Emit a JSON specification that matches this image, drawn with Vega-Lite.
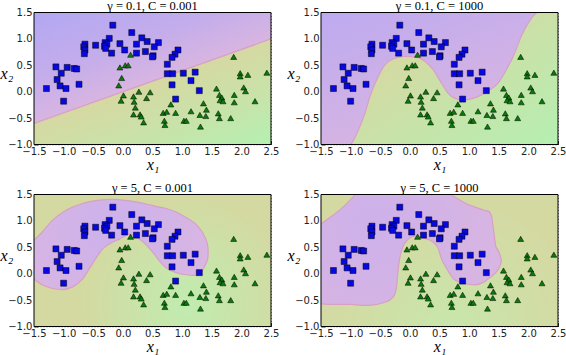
{
  "$schema": "https://vega.github.io/schema/vega-lite/v6.json",
  "padding": {"left": 0, "top": -0.5, "right": 0, "bottom": 0},
  "background": "white",
  "bounds": "flush",
  "columns": 2,
  "spacing": {"row": 50, "column": 50},
  "config": {
    "font": "DejaVu Sans",
    "view": {"stroke": null},
    "axis": {
      "grid": true, "gridDash": [1, 2], "gridColor": "#333", "gridWidth": 0.7, "gridOpacity": 0.8,
      "domain": false, "ticks": true, "tickSize": -4, "tickColor": "black", "tickWidth": 0.8,
      "labelFont": "DejaVu Sans", "labelFontSize": 10, "labelColor": "#222", "labelPadding": 6,
      "labelOverlap": false, "labelFlush": false,
      "titleFont": "Liberation Serif", "titleFontStyle": "italic", "titleFontWeight": "normal",
      "titleFontSize": 16, "titleColor": "black", "zindex": 1
    },
    "axisX": {"titlePadding": 0},
    "title": {"font": "Liberation Serif", "fontSize": 12.5, "fontWeight": "normal", "offset": -5, "baseline": "bottom", "color": "black"}
  },
  "datasets": {
    "pts": [
      {"x": -0.17, "y": 1.26, "c": "b"}, {"x": 0.15, "y": 1.12, "c": "b"}, {"x": -0.23, "y": 1.01, "c": "b"},
      {"x": 0.32, "y": 1.02, "c": "b"}, {"x": 0.41, "y": 0.95, "c": "b"}, {"x": 0.60, "y": 0.93, "c": "b"},
      {"x": 0.53, "y": 0.85, "c": "b"}, {"x": 0.23, "y": 0.90, "c": "b"}, {"x": -0.05, "y": 0.91, "c": "b"},
      {"x": -0.30, "y": 0.93, "c": "b"}, {"x": -0.27, "y": 0.90, "c": "b"}, {"x": -0.31, "y": 0.86, "c": "b"},
      {"x": -0.29, "y": 0.82, "c": "b"}, {"x": -0.46, "y": 0.88, "c": "b"}, {"x": -0.64, "y": 0.90, "c": "b"},
      {"x": -0.66, "y": 0.85, "c": "b"}, {"x": -0.64, "y": 0.79, "c": "b"}, {"x": -0.65, "y": 0.72, "c": "b"},
      {"x": -0.19, "y": 0.73, "c": "b"}, {"x": 0.03, "y": 0.79, "c": "b"}, {"x": 0.23, "y": 0.73, "c": "b"},
      {"x": 0.38, "y": 0.76, "c": "b"}, {"x": 0.51, "y": 0.68, "c": "b"}, {"x": 0.50, "y": 0.66, "c": "b"},
      {"x": 0.93, "y": 0.79, "c": "b"}, {"x": 0.88, "y": 0.71, "c": "b"}, {"x": 0.83, "y": 0.65, "c": "b"},
      {"x": 0.75, "y": 0.52, "c": "b"}, {"x": 0.75, "y": 0.34, "c": "b"}, {"x": 0.84, "y": 0.34, "c": "b"},
      {"x": 1.02, "y": 0.35, "c": "b"}, {"x": 1.22, "y": 0.37, "c": "b"}, {"x": 1.15, "y": 0.21, "c": "b"},
      {"x": 0.83, "y": 0.13, "c": "b"}, {"x": 1.29, "y": 0.02, "c": "b"}, {"x": 0.89, "y": -0.14, "c": "b"},
      {"x": -1.13, "y": 0.47, "c": "b"}, {"x": -0.94, "y": 0.46, "c": "b"}, {"x": -0.82, "y": 0.44, "c": "b"},
      {"x": -0.78, "y": 0.43, "c": "b"}, {"x": -1.04, "y": 0.35, "c": "b"}, {"x": -1.11, "y": 0.23, "c": "b"},
      {"x": -1.06, "y": 0.11, "c": "b"}, {"x": -0.96, "y": 0.06, "c": "b"}, {"x": -1.29, "y": 0.06, "c": "b"},
      {"x": -0.74, "y": 0.14, "c": "b"}, {"x": -1.00, "y": -0.18, "c": "b"},
      {"x": 1.87, "y": 0.66, "c": "g"}, {"x": 0.13, "y": 0.70, "c": "g"}, {"x": 0.04, "y": 0.50, "c": "g"},
      {"x": 0.09, "y": 0.50, "c": "g"}, {"x": -0.05, "y": 0.46, "c": "g"}, {"x": -0.02, "y": 0.26, "c": "g"},
      {"x": -0.07, "y": 0.12, "c": "g"}, {"x": 0.01, "y": -0.07, "c": "g"}, {"x": -0.03, "y": -0.17, "c": "g"},
      {"x": 0.27, "y": 0.00, "c": "g"}, {"x": 0.18, "y": -0.09, "c": "g"}, {"x": 0.19, "y": -0.19, "c": "g"},
      {"x": 0.21, "y": -0.30, "c": "g"}, {"x": 0.40, "y": -0.12, "c": "g"}, {"x": 0.46, "y": -0.01, "c": "g"},
      {"x": 0.18, "y": -0.43, "c": "g"}, {"x": 0.29, "y": -0.43, "c": "g"}, {"x": 0.31, "y": -0.47, "c": "g"},
      {"x": 0.35, "y": -0.58, "c": "g"}, {"x": 0.68, "y": -0.40, "c": "g"}, {"x": 0.74, "y": -0.38, "c": "g"},
      {"x": 0.70, "y": -0.55, "c": "g"}, {"x": 0.71, "y": -0.63, "c": "g"}, {"x": 0.81, "y": -0.24, "c": "g"},
      {"x": 0.89, "y": -0.40, "c": "g"}, {"x": 1.03, "y": -0.55, "c": "g"}, {"x": 1.07, "y": -0.55, "c": "g"},
      {"x": 1.15, "y": -0.37, "c": "g"}, {"x": 1.30, "y": -0.44, "c": "g"}, {"x": 1.31, "y": -0.66, "c": "g"},
      {"x": 1.36, "y": -0.22, "c": "g"}, {"x": 1.41, "y": -0.34, "c": "g"}, {"x": 1.40, "y": -0.46, "c": "g"},
      {"x": 1.58, "y": 0.06, "c": "g"}, {"x": 1.61, "y": -0.41, "c": "g"}, {"x": 1.63, "y": -0.50, "c": "g"},
      {"x": 1.63, "y": -0.06, "c": "g"}, {"x": 1.67, "y": -0.11, "c": "g"}, {"x": 1.64, "y": -0.16, "c": "g"},
      {"x": 1.69, "y": -0.18, "c": "g"}, {"x": 1.82, "y": -0.50, "c": "g"}, {"x": 1.88, "y": -0.06, "c": "g"},
      {"x": 1.88, "y": -0.20, "c": "g"}, {"x": 1.98, "y": 0.35, "c": "g"}, {"x": 1.98, "y": 0.29, "c": "g"},
      {"x": 2.11, "y": 0.32, "c": "g"}, {"x": 2.04, "y": 0.08, "c": "g"}, {"x": 2.07, "y": 0.01, "c": "g"},
      {"x": 2.23, "y": -0.18, "c": "g"}, {"x": 2.43, "y": 0.36, "c": "g"}
    ],
    "b1": [{"x": -1.5, "b": -0.6}, {"x": 2.5, "b": 1.0}],
    "b2": [
      {"x": -1.5, "b": -1}, {"x": -1.011, "b": -1}, {"x": -0.871, "b": -0.73}, {"x": -0.758, "b": -0.41},
      {"x": -0.674, "b": -0.09}, {"x": -0.534, "b": 0.29}, {"x": -0.421, "b": 0.51}, {"x": -0.281, "b": 0.62},
      {"x": -0.084, "b": 0.67}, {"x": 0.084, "b": 0.66}, {"x": 0.253, "b": 0.575}, {"x": 0.393, "b": 0.416},
      {"x": 0.534, "b": 0.16}, {"x": 0.646, "b": -0.03}, {"x": 0.758, "b": -0.126}, {"x": 0.899, "b": -0.158},
      {"x": 1.067, "b": -0.126}, {"x": 1.208, "b": -0.063}, {"x": 1.348, "b": 0.033}, {"x": 1.489, "b": 0.161},
      {"x": 1.629, "b": 0.416}, {"x": 1.77, "b": 0.735}, {"x": 1.882, "b": 1.054}, {"x": 2.022, "b": 1.341},
      {"x": 2.163, "b": 1.5}, {"x": 2.5, "b": 1.5}
    ],
    "b3": [
      {"x": -1.5, "lo": -0.10, "hi": 0.63}, {"x": -1.36, "lo": -0.21, "hi": 0.79}, {"x": -1.19, "lo": -0.28, "hi": 1.01},
      {"x": -1.02, "lo": -0.30, "hi": 1.16}, {"x": -0.85, "lo": -0.25, "hi": 1.26}, {"x": -0.68, "lo": -0.10, "hi": 1.33},
      {"x": -0.57, "lo": 0.09, "hi": 1.36}, {"x": -0.45, "lo": 0.30, "hi": 1.385}, {"x": -0.34, "lo": 0.47, "hi": 1.40},
      {"x": -0.20, "lo": 0.58, "hi": 1.41}, {"x": -0.05, "lo": 0.66, "hi": 1.40}, {"x": 0.11, "lo": 0.75, "hi": 1.38},
      {"x": 0.25, "lo": 0.68, "hi": 1.355}, {"x": 0.39, "lo": 0.55, "hi": 1.32}, {"x": 0.51, "lo": 0.40, "hi": 1.29},
      {"x": 0.62, "lo": 0.24, "hi": 1.26}, {"x": 0.73, "lo": 0.11, "hi": 1.235}, {"x": 0.90, "lo": 0.02, "hi": 1.17},
      {"x": 1.07, "lo": -0.02, "hi": 1.06}, {"x": 1.17, "lo": -0.03, "hi": 0.99}, {"x": 1.24, "lo": -0.03, "hi": 0.93},
      {"x": 1.30, "lo": -0.01, "hi": 0.85}, {"x": 1.35, "lo": 0.08, "hi": 0.77}, {"x": 1.41, "lo": 0.21, "hi": 0.62},
      {"x": 1.435, "lo": 0.30, "hi": 0.50}, {"x": 1.44, "lo": 0.40, "hi": 0.40}
    ],
    "b4": [
      {"x": -1.5, "lo": -0.57, "hi": 0.945}, {"x": -1.28, "lo": -0.58, "hi": 1.12}, {"x": -1.11, "lo": -0.58, "hi": 1.28},
      {"x": -0.97, "lo": -0.58, "hi": 1.44}, {"x": -0.915, "lo": -0.59, "hi": 1.5}, {"x": -0.70, "lo": -0.60, "hi": 1.5},
      {"x": -0.42, "lo": -0.54, "hi": 1.5}, {"x": -0.30, "lo": -0.46, "hi": 1.5}, {"x": -0.25, "lo": -0.38, "hi": 1.5},
      {"x": -0.22, "lo": -0.20, "hi": 1.5}, {"x": -0.20, "lo": 0.05, "hi": 1.5}, {"x": -0.17, "lo": 0.30, "hi": 1.5},
      {"x": -0.12, "lo": 0.50, "hi": 1.5}, {"x": -0.03, "lo": 0.65, "hi": 1.5}, {"x": 0.08, "lo": 0.71, "hi": 1.5},
      {"x": 0.25, "lo": 0.67, "hi": 1.5}, {"x": 0.39, "lo": 0.60, "hi": 1.5}, {"x": 0.48, "lo": 0.47, "hi": 1.5},
      {"x": 0.53, "lo": 0.29, "hi": 1.5}, {"x": 0.62, "lo": 0.10, "hi": 1.5}, {"x": 0.69, "lo": -0.03, "hi": 1.5},
      {"x": 0.73, "lo": -0.09, "hi": 1.47}, {"x": 0.93, "lo": -0.19, "hi": 1.34}, {"x": 1.10, "lo": -0.21, "hi": 1.26},
      {"x": 1.26, "lo": -0.15, "hi": 1.20}, {"x": 1.33, "lo": -0.09, "hi": 1.18}, {"x": 1.38, "lo": -0.05, "hi": 1.08},
      {"x": 1.41, "lo": -0.02, "hi": 0.85}, {"x": 1.45, "lo": 0.02, "hi": 0.52}, {"x": 1.50, "lo": 0.10, "hi": 0.42},
      {"x": 1.53, "lo": 0.18, "hi": 0.32}, {"x": 1.545, "lo": 0.25, "hi": 0.25}
    ]
  },
  "concat": [
    {
      "width": 237, "height": 132,
      "title": "γ = 0.1, C = 0.001",
      "layer": [
        {
          "data": {"name": "b1"},
          "mark": {"type": "area", "clip": true, "fill": {"gradient": "linear", "x1": 0, "y1": 0, "x2": 0.48, "y2": 0.63, "stops": [{"offset": 0, "color": "#b2a7f3"}, {"offset": 0.6, "color": "#c4adeb"}, {"offset": 1, "color": "#d8b5e1"}]}},
          "encoding": {
            "x": {"field": "x", "type": "quantitative", "scale": {"domain": [-1.5, 2.5], "nice": false, "zero": false},
                  "axis": {"title": "x₁", "values": [-1.5, -1, -0.5, 0, 0.5, 1, 1.5, 2, 2.5], "format": ".1f"}},
            "y": {"field": "b", "type": "quantitative", "scale": {"domain": [-1, 1.5], "nice": false, "zero": false},
                  "axis": {"title": "x₂", "values": [-1, -0.5, 0, 0.5, 1, 1.5], "format": ".1f", "titleAngle": 0, "titleAlign": "right", "titleBaseline": "alphabetic", "titlePadding": -5}},
            "y2": {"datum": 1.5}
          }
        },
        {
          "data": {"name": "b1"},
          "mark": {"type": "area", "clip": true, "fill": {"gradient": "linear", "x1": 0.51, "y1": 0.39, "x2": 1, "y2": 1, "stops": [{"offset": 0, "color": "#d6d8a2"}, {"offset": 0.5, "color": "#c8e3a9"}, {"offset": 1, "color": "#b5f0b2"}]}},
          "encoding": {
            "x": {"field": "x", "type": "quantitative", "scale": {"domain": [-1.5, 2.5], "nice": false, "zero": false},
                  "axis": {"title": "x₁", "values": [-1.5, -1, -0.5, 0, 0.5, 1, 1.5, 2, 2.5], "format": ".1f"}},
            "y": {"field": "b", "type": "quantitative", "scale": {"domain": [-1, 1.5], "nice": false, "zero": false},
                  "axis": {"title": "x₂", "values": [-1, -0.5, 0, 0.5, 1, 1.5], "format": ".1f", "titleAngle": 0, "titleAlign": "right", "titleBaseline": "alphabetic", "titlePadding": -5}},
            "y2": {"datum": -1}
          }
        },
        {
          "data": {"name": "b1"},
          "mark": {"type": "line", "clip": true, "stroke": "#d7a0c4", "strokeWidth": 1.2},
          "encoding": {
            "x": {"field": "x", "type": "quantitative", "scale": {"domain": [-1.5, 2.5], "nice": false, "zero": false},
                  "axis": {"title": "x₁", "values": [-1.5, -1, -0.5, 0, 0.5, 1, 1.5, 2, 2.5], "format": ".1f"}},
            "y": {"field": "b", "type": "quantitative", "scale": {"domain": [-1, 1.5], "nice": false, "zero": false},
                  "axis": {"title": "x₂", "values": [-1, -0.5, 0, 0.5, 1, 1.5], "format": ".1f", "titleAngle": 0, "titleAlign": "right", "titleBaseline": "alphabetic", "titlePadding": -5}}
          }
        },
        {
          "data": {"name": "pts"},
          "mark": {"type": "point", "filled": true, "opacity": 1, "stroke": "black", "strokeWidth": 0.5, "size": 36},
          "encoding": {
            "x": {"field": "x", "type": "quantitative", "scale": {"domain": [-1.5, 2.5], "nice": false, "zero": false},
                  "axis": {"title": "x₁", "values": [-1.5, -1, -0.5, 0, 0.5, 1, 1.5, 2, 2.5], "format": ".1f"}},
            "y": {"field": "y", "type": "quantitative", "scale": {"domain": [-1, 1.5], "nice": false, "zero": false},
                  "axis": {"title": "x₂", "values": [-1, -0.5, 0, 0.5, 1, 1.5], "format": ".1f", "titleAngle": 0, "titleAlign": "right", "titleBaseline": "alphabetic", "titlePadding": -5}},
            "shape": {"field": "c", "type": "nominal", "scale": {"domain": ["b", "g"], "range": ["square", "triangle-up"]}, "legend": null},
            "color": {"field": "c", "type": "nominal", "scale": {"domain": ["b", "g"], "range": ["#0808e0", "#0a7a0a"]}, "legend": null}
          }
        },
        {
          "data": {"values": [{}]},
          "mark": {"type": "rect", "filled": false, "stroke": "black", "strokeWidth": 1},
          "encoding": {
            "x": {"datum": -1.5, "type": "quantitative", "scale": {"domain": [-1.5, 2.5], "nice": false, "zero": false},
                  "axis": {"title": "x₁", "values": [-1.5, -1, -0.5, 0, 0.5, 1, 1.5, 2, 2.5], "format": ".1f"}},
            "x2": {"datum": 2.5},
            "y": {"datum": -1, "type": "quantitative", "scale": {"domain": [-1, 1.5], "nice": false, "zero": false},
                  "axis": {"title": "x₂", "values": [-1, -0.5, 0, 0.5, 1, 1.5], "format": ".1f", "titleAngle": 0, "titleAlign": "right", "titleBaseline": "alphabetic", "titlePadding": -5}},
            "y2": {"datum": 1.5}
          }
        }
      ]
    },
    {
      "width": 237, "height": 132,
      "title": "γ = 0.1, C = 1000",
      "layer": [
        {
          "data": {"name": "b2"},
          "mark": {"type": "area", "clip": true, "interpolate": "monotone", "fill": {"gradient": "linear", "x1": 0.25, "y1": 0.35, "x2": 1, "y2": 1, "stops": [{"offset": 0, "color": "#d5d9a2"}, {"offset": 1, "color": "#b6efb2"}]}},
          "encoding": {
            "x": {"field": "x", "type": "quantitative", "scale": {"domain": [-1.5, 2.5], "nice": false, "zero": false},
                  "axis": {"title": "x₁", "values": [-1.5, -1, -0.5, 0, 0.5, 1, 1.5, 2, 2.5], "format": ".1f"}},
            "y": {"field": "b", "type": "quantitative", "scale": {"domain": [-1, 1.5], "nice": false, "zero": false},
                  "axis": {"title": "x₂", "values": [-1, -0.5, 0, 0.5, 1, 1.5], "format": ".1f", "titleAngle": 0, "titleAlign": "right", "titleBaseline": "alphabetic", "titlePadding": -5}},
            "y2": {"datum": -1}
          }
        },
        {
          "data": {"name": "b2"},
          "mark": {"type": "area", "clip": true, "interpolate": "monotone", "fill": {"gradient": "linear", "x1": 0, "y1": 0, "x2": 0.5, "y2": 0.8, "stops": [{"offset": 0, "color": "#bdaaf0"}, {"offset": 1, "color": "#d6b4e2"}]}},
          "encoding": {
            "x": {"field": "x", "type": "quantitative", "scale": {"domain": [-1.5, 2.5], "nice": false, "zero": false},
                  "axis": {"title": "x₁", "values": [-1.5, -1, -0.5, 0, 0.5, 1, 1.5, 2, 2.5], "format": ".1f"}},
            "y": {"field": "b", "type": "quantitative", "scale": {"domain": [-1, 1.5], "nice": false, "zero": false},
                  "axis": {"title": "x₂", "values": [-1, -0.5, 0, 0.5, 1, 1.5], "format": ".1f", "titleAngle": 0, "titleAlign": "right", "titleBaseline": "alphabetic", "titlePadding": -5}},
            "y2": {"datum": 1.5}
          }
        },
        {
          "data": {"name": "b2"},
          "mark": {"type": "line", "clip": true, "interpolate": "monotone", "stroke": "#d7a0c4", "strokeWidth": 1.2},
          "encoding": {
            "x": {"field": "x", "type": "quantitative", "scale": {"domain": [-1.5, 2.5], "nice": false, "zero": false},
                  "axis": {"title": "x₁", "values": [-1.5, -1, -0.5, 0, 0.5, 1, 1.5, 2, 2.5], "format": ".1f"}},
            "y": {"field": "b", "type": "quantitative", "scale": {"domain": [-1, 1.5], "nice": false, "zero": false},
                  "axis": {"title": "x₂", "values": [-1, -0.5, 0, 0.5, 1, 1.5], "format": ".1f", "titleAngle": 0, "titleAlign": "right", "titleBaseline": "alphabetic", "titlePadding": -5}}
          }
        },
        {
          "data": {"name": "pts"},
          "mark": {"type": "point", "filled": true, "opacity": 1, "stroke": "black", "strokeWidth": 0.5, "size": 36},
          "encoding": {
            "x": {"field": "x", "type": "quantitative", "scale": {"domain": [-1.5, 2.5], "nice": false, "zero": false},
                  "axis": {"title": "x₁", "values": [-1.5, -1, -0.5, 0, 0.5, 1, 1.5, 2, 2.5], "format": ".1f"}},
            "y": {"field": "y", "type": "quantitative", "scale": {"domain": [-1, 1.5], "nice": false, "zero": false},
                  "axis": {"title": "x₂", "values": [-1, -0.5, 0, 0.5, 1, 1.5], "format": ".1f", "titleAngle": 0, "titleAlign": "right", "titleBaseline": "alphabetic", "titlePadding": -5}},
            "shape": {"field": "c", "type": "nominal", "scale": {"domain": ["b", "g"], "range": ["square", "triangle-up"]}, "legend": null},
            "color": {"field": "c", "type": "nominal", "scale": {"domain": ["b", "g"], "range": ["#0808e0", "#0a7a0a"]}, "legend": null}
          }
        },
        {
          "data": {"values": [{}]},
          "mark": {"type": "rect", "filled": false, "stroke": "black", "strokeWidth": 1},
          "encoding": {
            "x": {"datum": -1.5, "type": "quantitative", "scale": {"domain": [-1.5, 2.5], "nice": false, "zero": false},
                  "axis": {"title": "x₁", "values": [-1.5, -1, -0.5, 0, 0.5, 1, 1.5, 2, 2.5], "format": ".1f"}},
            "x2": {"datum": 2.5},
            "y": {"datum": -1, "type": "quantitative", "scale": {"domain": [-1, 1.5], "nice": false, "zero": false},
                  "axis": {"title": "x₂", "values": [-1, -0.5, 0, 0.5, 1, 1.5], "format": ".1f", "titleAngle": 0, "titleAlign": "right", "titleBaseline": "alphabetic", "titlePadding": -5}},
            "y2": {"datum": 1.5}
          }
        }
      ]
    },
    {
      "width": 237, "height": 132,
      "title": "γ = 5, C = 0.001",
      "layer": [
        {
          "data": {"name": "b1"},
          "mark": {"type": "area", "clip": true, "fill": {"gradient": "radial", "x1": 0.65, "y1": 0.68, "r1": 0, "x2": 0.65, "y2": 0.68, "r2": 0.45, "stops": [{"offset": 0, "color": "#c0ecb0"}, {"offset": 1, "color": "#d3d9a1"}]}},
          "encoding": {
            "x": {"field": "x", "type": "quantitative", "scale": {"domain": [-1.5, 2.5], "nice": false, "zero": false},
                  "axis": {"title": "x₁", "values": [-1.5, -1, -0.5, 0, 0.5, 1, 1.5, 2, 2.5], "format": ".1f"}},
            "y": {"datum": -1, "type": "quantitative", "scale": {"domain": [-1, 1.5], "nice": false, "zero": false},
                  "axis": {"title": "x₂", "values": [-1, -0.5, 0, 0.5, 1, 1.5], "format": ".1f", "titleAngle": 0, "titleAlign": "right", "titleBaseline": "alphabetic", "titlePadding": -5}},
            "y2": {"datum": 1.5}
          }
        },
        {
          "data": {"name": "b3"},
          "mark": {"type": "area", "clip": true, "interpolate": "monotone", "fill": {"gradient": "radial", "x1": 0.45, "y1": 0.4, "r1": 0, "x2": 0.45, "y2": 0.4, "r2": 0.6, "stops": [{"offset": 0, "color": "#ccb1ec"}, {"offset": 1, "color": "#d9b6e2"}]}},
          "encoding": {
            "x": {"field": "x", "type": "quantitative", "scale": {"domain": [-1.5, 2.5], "nice": false, "zero": false},
                  "axis": {"title": "x₁", "values": [-1.5, -1, -0.5, 0, 0.5, 1, 1.5, 2, 2.5], "format": ".1f"}},
            "y": {"field": "lo", "type": "quantitative", "scale": {"domain": [-1, 1.5], "nice": false, "zero": false},
                  "axis": {"title": "x₂", "values": [-1, -0.5, 0, 0.5, 1, 1.5], "format": ".1f", "titleAngle": 0, "titleAlign": "right", "titleBaseline": "alphabetic", "titlePadding": -5}},
            "y2": {"field": "hi"}
          }
        },
        {
          "data": {"name": "b3"},
          "mark": {"type": "line", "clip": true, "interpolate": "monotone", "stroke": "#d7a0c4", "strokeWidth": 1.2},
          "encoding": {
            "x": {"field": "x", "type": "quantitative", "scale": {"domain": [-1.5, 2.5], "nice": false, "zero": false},
                  "axis": {"title": "x₁", "values": [-1.5, -1, -0.5, 0, 0.5, 1, 1.5, 2, 2.5], "format": ".1f"}},
            "y": {"field": "lo", "type": "quantitative", "scale": {"domain": [-1, 1.5], "nice": false, "zero": false},
                  "axis": {"title": "x₂", "values": [-1, -0.5, 0, 0.5, 1, 1.5], "format": ".1f", "titleAngle": 0, "titleAlign": "right", "titleBaseline": "alphabetic", "titlePadding": -5}}
          }
        },
        {
          "data": {"name": "b3"},
          "mark": {"type": "line", "clip": true, "interpolate": "monotone", "stroke": "#d7a0c4", "strokeWidth": 1.2},
          "encoding": {
            "x": {"field": "x", "type": "quantitative", "scale": {"domain": [-1.5, 2.5], "nice": false, "zero": false},
                  "axis": {"title": "x₁", "values": [-1.5, -1, -0.5, 0, 0.5, 1, 1.5, 2, 2.5], "format": ".1f"}},
            "y": {"field": "hi", "type": "quantitative", "scale": {"domain": [-1, 1.5], "nice": false, "zero": false},
                  "axis": {"title": "x₂", "values": [-1, -0.5, 0, 0.5, 1, 1.5], "format": ".1f", "titleAngle": 0, "titleAlign": "right", "titleBaseline": "alphabetic", "titlePadding": -5}}
          }
        },
        {
          "data": {"name": "pts"},
          "mark": {"type": "point", "filled": true, "opacity": 1, "stroke": "black", "strokeWidth": 0.5, "size": 36},
          "encoding": {
            "x": {"field": "x", "type": "quantitative", "scale": {"domain": [-1.5, 2.5], "nice": false, "zero": false},
                  "axis": {"title": "x₁", "values": [-1.5, -1, -0.5, 0, 0.5, 1, 1.5, 2, 2.5], "format": ".1f"}},
            "y": {"field": "y", "type": "quantitative", "scale": {"domain": [-1, 1.5], "nice": false, "zero": false},
                  "axis": {"title": "x₂", "values": [-1, -0.5, 0, 0.5, 1, 1.5], "format": ".1f", "titleAngle": 0, "titleAlign": "right", "titleBaseline": "alphabetic", "titlePadding": -5}},
            "shape": {"field": "c", "type": "nominal", "scale": {"domain": ["b", "g"], "range": ["square", "triangle-up"]}, "legend": null},
            "color": {"field": "c", "type": "nominal", "scale": {"domain": ["b", "g"], "range": ["#0808e0", "#0a7a0a"]}, "legend": null}
          }
        },
        {
          "data": {"values": [{}]},
          "mark": {"type": "rect", "filled": false, "stroke": "black", "strokeWidth": 1},
          "encoding": {
            "x": {"datum": -1.5, "type": "quantitative", "scale": {"domain": [-1.5, 2.5], "nice": false, "zero": false},
                  "axis": {"title": "x₁", "values": [-1.5, -1, -0.5, 0, 0.5, 1, 1.5, 2, 2.5], "format": ".1f"}},
            "x2": {"datum": 2.5},
            "y": {"datum": -1, "type": "quantitative", "scale": {"domain": [-1, 1.5], "nice": false, "zero": false},
                  "axis": {"title": "x₂", "values": [-1, -0.5, 0, 0.5, 1, 1.5], "format": ".1f", "titleAngle": 0, "titleAlign": "right", "titleBaseline": "alphabetic", "titlePadding": -5}},
            "y2": {"datum": 1.5}
          }
        }
      ]
    },
    {
      "width": 237, "height": 132,
      "title": "γ = 5, C = 1000",
      "layer": [
        {
          "data": {"name": "b1"},
          "mark": {"type": "area", "clip": true, "fill": {"gradient": "radial", "x1": 0.55, "y1": 0.8, "r1": 0, "x2": 0.55, "y2": 0.8, "r2": 0.55, "stops": [{"offset": 0, "color": "#c8e6ab"}, {"offset": 1, "color": "#d4d9a2"}]}},
          "encoding": {
            "x": {"field": "x", "type": "quantitative", "scale": {"domain": [-1.5, 2.5], "nice": false, "zero": false},
                  "axis": {"title": "x₁", "values": [-1.5, -1, -0.5, 0, 0.5, 1, 1.5, 2, 2.5], "format": ".1f"}},
            "y": {"datum": -1, "type": "quantitative", "scale": {"domain": [-1, 1.5], "nice": false, "zero": false},
                  "axis": {"title": "x₂", "values": [-1, -0.5, 0, 0.5, 1, 1.5], "format": ".1f", "titleAngle": 0, "titleAlign": "right", "titleBaseline": "alphabetic", "titlePadding": -5}},
            "y2": {"datum": 1.5}
          }
        },
        {
          "data": {"name": "b4"},
          "mark": {"type": "area", "clip": true, "interpolate": "monotone", "fill": {"gradient": "radial", "x1": 0.3, "y1": 0.35, "r1": 0, "x2": 0.3, "y2": 0.35, "r2": 0.7, "stops": [{"offset": 0, "color": "#cdb1ea"}, {"offset": 1, "color": "#d8b5e2"}]}},
          "encoding": {
            "x": {"field": "x", "type": "quantitative", "scale": {"domain": [-1.5, 2.5], "nice": false, "zero": false},
                  "axis": {"title": "x₁", "values": [-1.5, -1, -0.5, 0, 0.5, 1, 1.5, 2, 2.5], "format": ".1f"}},
            "y": {"field": "lo", "type": "quantitative", "scale": {"domain": [-1, 1.5], "nice": false, "zero": false},
                  "axis": {"title": "x₂", "values": [-1, -0.5, 0, 0.5, 1, 1.5], "format": ".1f", "titleAngle": 0, "titleAlign": "right", "titleBaseline": "alphabetic", "titlePadding": -5}},
            "y2": {"field": "hi"}
          }
        },
        {
          "data": {"name": "b4"},
          "mark": {"type": "line", "clip": true, "interpolate": "monotone", "stroke": "#d7a0c4", "strokeWidth": 1.2},
          "encoding": {
            "x": {"field": "x", "type": "quantitative", "scale": {"domain": [-1.5, 2.5], "nice": false, "zero": false},
                  "axis": {"title": "x₁", "values": [-1.5, -1, -0.5, 0, 0.5, 1, 1.5, 2, 2.5], "format": ".1f"}},
            "y": {"field": "lo", "type": "quantitative", "scale": {"domain": [-1, 1.5], "nice": false, "zero": false},
                  "axis": {"title": "x₂", "values": [-1, -0.5, 0, 0.5, 1, 1.5], "format": ".1f", "titleAngle": 0, "titleAlign": "right", "titleBaseline": "alphabetic", "titlePadding": -5}}
          }
        },
        {
          "data": {"name": "b4"},
          "mark": {"type": "line", "clip": true, "interpolate": "monotone", "stroke": "#d7a0c4", "strokeWidth": 1.2},
          "encoding": {
            "x": {"field": "x", "type": "quantitative", "scale": {"domain": [-1.5, 2.5], "nice": false, "zero": false},
                  "axis": {"title": "x₁", "values": [-1.5, -1, -0.5, 0, 0.5, 1, 1.5, 2, 2.5], "format": ".1f"}},
            "y": {"field": "hi", "type": "quantitative", "scale": {"domain": [-1, 1.5], "nice": false, "zero": false},
                  "axis": {"title": "x₂", "values": [-1, -0.5, 0, 0.5, 1, 1.5], "format": ".1f", "titleAngle": 0, "titleAlign": "right", "titleBaseline": "alphabetic", "titlePadding": -5}}
          }
        },
        {
          "data": {"name": "pts"},
          "mark": {"type": "point", "filled": true, "opacity": 1, "stroke": "black", "strokeWidth": 0.5, "size": 36},
          "encoding": {
            "x": {"field": "x", "type": "quantitative", "scale": {"domain": [-1.5, 2.5], "nice": false, "zero": false},
                  "axis": {"title": "x₁", "values": [-1.5, -1, -0.5, 0, 0.5, 1, 1.5, 2, 2.5], "format": ".1f"}},
            "y": {"field": "y", "type": "quantitative", "scale": {"domain": [-1, 1.5], "nice": false, "zero": false},
                  "axis": {"title": "x₂", "values": [-1, -0.5, 0, 0.5, 1, 1.5], "format": ".1f", "titleAngle": 0, "titleAlign": "right", "titleBaseline": "alphabetic", "titlePadding": -5}},
            "shape": {"field": "c", "type": "nominal", "scale": {"domain": ["b", "g"], "range": ["square", "triangle-up"]}, "legend": null},
            "color": {"field": "c", "type": "nominal", "scale": {"domain": ["b", "g"], "range": ["#0808e0", "#0a7a0a"]}, "legend": null}
          }
        },
        {
          "data": {"values": [{}]},
          "mark": {"type": "rect", "filled": false, "stroke": "black", "strokeWidth": 1},
          "encoding": {
            "x": {"datum": -1.5, "type": "quantitative", "scale": {"domain": [-1.5, 2.5], "nice": false, "zero": false},
                  "axis": {"title": "x₁", "values": [-1.5, -1, -0.5, 0, 0.5, 1, 1.5, 2, 2.5], "format": ".1f"}},
            "x2": {"datum": 2.5},
            "y": {"datum": -1, "type": "quantitative", "scale": {"domain": [-1, 1.5], "nice": false, "zero": false},
                  "axis": {"title": "x₂", "values": [-1, -0.5, 0, 0.5, 1, 1.5], "format": ".1f", "titleAngle": 0, "titleAlign": "right", "titleBaseline": "alphabetic", "titlePadding": -5}},
            "y2": {"datum": 1.5}
          }
        }
      ]
    }
  ]
}
